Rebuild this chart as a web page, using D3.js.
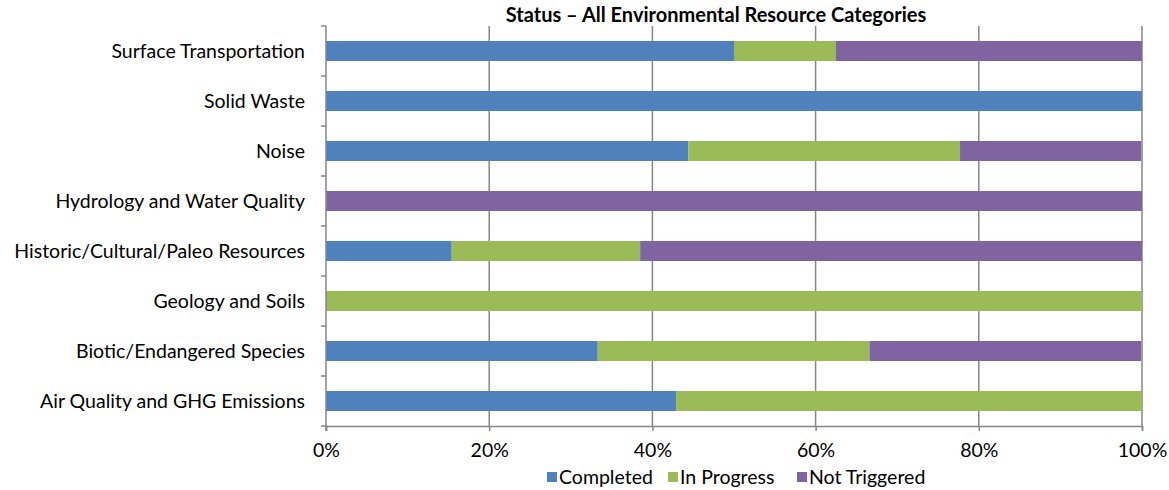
<!DOCTYPE html>
<html>
<head>
<meta charset="utf-8">
<script src="https://cdn.jsdelivr.net/npm/d3@7"></script>
<style>
  body { margin: 0; background: #fff; }
  text { font-family: Lato, "Open Sans", sans-serif; fill: #000; }
</style>
</head>
<body>
<div id="chart"></div>
<script>
// categories, top to bottom
const categories = [
  "Surface Transportation",
  "Solid Waste",
  "Noise",
  "Hydrology and Water Quality",
  "Historic/Cultural/Paleo Resources",
  "Geology and Soils",
  "Biotic/Endangered Species",
  "Air Quality and GHG Emissions"
];
const seriesNames = ["Completed", "In Progress", "Not Triggered"];
// shares in percent
const completed    = [50.0, 100, 44.4, 0,   15.4, 0,   33.3, 42.9];
const inProgress   = [12.5, 0,   33.3, 0,   23.1, 100, 33.3, 57.1];
const notTriggered = [37.5, 0,   22.2, 100, 61.5, 0,   33.3, 0];
const xTicks = [0, 20, 40, 60, 80, 100];
const colors = ["#4f81bd", "#9bbb59", "#8064a2"];

const width = 1169, height = 490;
const margin = {top: 26, left: 326, right: 27, bottom: 64};
const fontSize = "19.5px";

const svg = d3.select("#chart").append("svg")
    .attr("width", width)
    .attr("height", height);

const x = d3.scaleLinear().domain([0, 100]).range([margin.left, width - margin.right]);
const y = d3.scaleBand().domain(categories)
    .range([margin.top, height - margin.bottom])
    .paddingInner(0.6).paddingOuter(0.3);

const rows = categories.map((c, i) => ({cat: c, vals: [completed[i], inProgress[i], notTriggered[i]]}));
const stacked = d3.stack().keys([0, 1, 2]).value((d, k) => d.vals[k])(rows);

// gridlines
svg.append("g")
  .selectAll("line")
  .data(xTicks.slice(1))
  .join("line")
    .attr("x1", d => x(d)).attr("x2", d => x(d))
    .attr("y1", margin.top).attr("y2", height - margin.bottom)
    .attr("stroke", "#868686")
    .attr("stroke-width", 1.5);

// bars
svg.append("g")
  .selectAll("g")
  .data(stacked)
  .join("g")
    .attr("fill", (d, i) => colors[i])
  .selectAll("rect")
  .data(d => d)
  .join("rect")
    .attr("x", d => x(d[0]))
    .attr("width", d => x(d[1]) - x(d[0]))
    .attr("y", d => y(d.data.cat))
    .attr("height", y.bandwidth());

// y axis
const step = y.step();
const yAxis = svg.append("g");
yAxis.append("line")
    .attr("x1", margin.left).attr("x2", margin.left)
    .attr("y1", margin.top).attr("y2", height - margin.bottom + 5)
    .attr("stroke", "#868686").attr("stroke-width", 1.5);
yAxis.selectAll("line.tk")
  .data(d3.range(categories.length + 1))
  .join("line")
    .attr("class", "tk")
    .attr("x1", margin.left - 5).attr("x2", margin.left)
    .attr("y1", i => margin.top + i * step)
    .attr("y2", i => margin.top + i * step)
    .attr("stroke", "#868686").attr("stroke-width", 1.5);
yAxis.selectAll("text")
  .data(categories)
  .join("text")
    .attr("x", 305)
    .attr("y", d => y(d) + y.bandwidth() / 2)
    .attr("text-anchor", "end")
    .attr("dy", "0.35em")
    .style("font-size", fontSize)
    .text(d => d);

// x axis
const xAxis = svg.append("g")
    .attr("transform", `translate(0,${height - margin.bottom})`)
    .call(d3.axisBottom(x).tickValues(xTicks).tickSize(5).tickFormat(d => d + "%"));
xAxis.select(".domain").attr("stroke", "#868686").attr("stroke-width", 1.5);
xAxis.selectAll(".tick line").attr("stroke", "#868686").attr("stroke-width", 1.5);
xAxis.selectAll(".tick text")
    .attr("y", 17)
    .style("font-size", fontSize)
    .style("font-family", "Lato, sans-serif");

// title
svg.append("text")
    .attr("x", 716)
    .attr("y", 22)
    .attr("text-anchor", "middle")
    .style("font-size", "20px")
    .style("font-weight", "bold")
    .text("Status \u2013 All Environmental Resource Categories");

// legend
const legendX = [547, 668, 797];
const legend = svg.append("g");
seriesNames.forEach((name, i) => {
  legend.append("rect")
      .attr("x", legendX[i]).attr("y", 472)
      .attr("width", 10).attr("height", 10)
      .attr("fill", colors[i]);
  legend.append("text")
      .attr("x", legendX[i] + 12).attr("y", 477)
      .attr("dy", "0.35em")
      .style("font-size", fontSize)
      .text(name);
});
</script>
</body>
</html>
